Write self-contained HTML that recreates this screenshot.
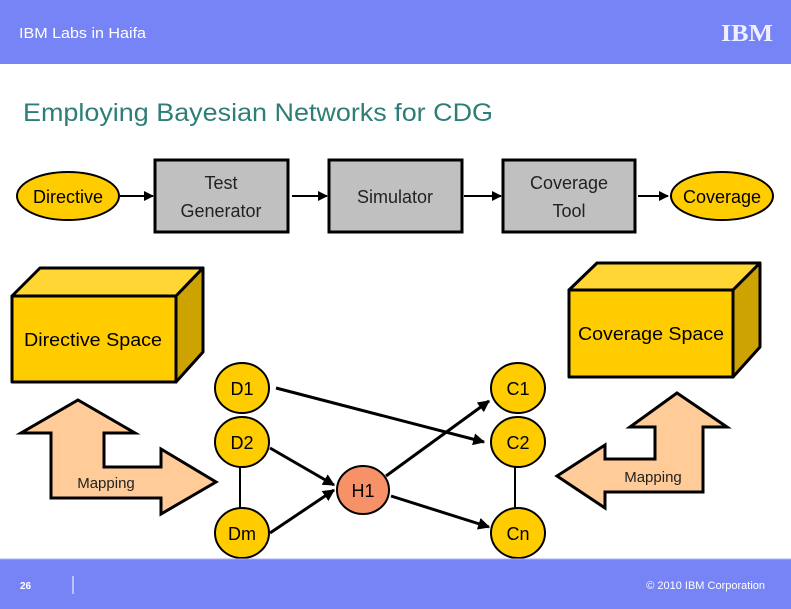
<!DOCTYPE html>
<html><head><meta charset="utf-8"><style>
body{margin:0;width:791px;height:609px;overflow:hidden;background:#fff}
svg{display:block}
</style></head><body>
<svg width="791" height="609" viewBox="0 0 791 609" xmlns="http://www.w3.org/2000/svg" font-family="Liberation Sans, Arial, Helvetica, sans-serif">
<defs>
<marker id="a" viewBox="0 0 10 10" refX="9" refY="5" markerWidth="5" markerHeight="5" orient="auto"><path d="M0,0L10,5L0,10z" fill="#000"/></marker>
<marker id="b" viewBox="0 0 10 10" refX="9" refY="5" markerWidth="4" markerHeight="4" orient="auto"><path d="M0,0L10,5L0,10z" fill="#000"/></marker>
</defs>
<rect x="0" y="0" width="791" height="64" fill="#7784F6"/>
<text x="19" y="38" font-size="15" fill="#fff" textLength="127" lengthAdjust="spacingAndGlyphs">IBM Labs in Haifa</text>
<text x="721" y="41" font-size="24" font-weight="bold" fill="#eef0ff" font-family="Liberation Serif, serif" textLength="52" lengthAdjust="spacingAndGlyphs">IBM</text>
<text x="23" y="121" font-size="25" fill="#2E7E78" textLength="470" lengthAdjust="spacingAndGlyphs">Employing Bayesian Networks for CDG</text>

<ellipse cx="68" cy="196" rx="51" ry="24" fill="#FFCC00" stroke="#000" stroke-width="2"/>
<text x="68" y="203" font-size="18" text-anchor="middle">Directive</text>
<rect x="155" y="160" width="133" height="72" fill="#C0C0C0" stroke="#000" stroke-width="3"/>
<text x="221" y="189" font-size="18" text-anchor="middle" fill="#222">Test</text>
<text x="221" y="217" font-size="18" text-anchor="middle" fill="#222">Generator</text>
<rect x="329" y="160" width="133" height="72" fill="#C0C0C0" stroke="#000" stroke-width="3"/>
<text x="395" y="203" font-size="18" text-anchor="middle" fill="#222">Simulator</text>
<rect x="503" y="160" width="132" height="72" fill="#C0C0C0" stroke="#000" stroke-width="3"/>
<text x="569" y="189" font-size="18" text-anchor="middle" fill="#222">Coverage</text>
<text x="569" y="217" font-size="18" text-anchor="middle" fill="#222">Tool</text>
<ellipse cx="722" cy="196" rx="51" ry="24" fill="#FFCC00" stroke="#000" stroke-width="2"/>
<text x="722" y="203" font-size="18" text-anchor="middle">Coverage</text>
<g stroke="#000" stroke-width="2" marker-end="url(#a)">
<line x1="120" y1="196" x2="153" y2="196"/>
<line x1="292" y1="196" x2="327" y2="196"/>
<line x1="464" y1="196" x2="501" y2="196"/>
<line x1="638" y1="196" x2="668" y2="196"/>
</g>

<g stroke="#000" stroke-width="3" stroke-linejoin="round">
<path d="M12,296L40,268L203,268L176,296Z" fill="#FFD633"/>
<path d="M176,296L203,268L203,352L176,382Z" fill="#CCA300"/>
<rect x="12" y="296" width="164" height="86" fill="#FFCC00"/>
<path d="M569,290L597,263L760,263L733,290Z" fill="#FFD633"/>
<path d="M733,290L760,263L760,347L733,377Z" fill="#CCA300"/>
<rect x="569" y="290" width="164" height="87" fill="#FFCC00"/>
</g>
<text x="93" y="346" font-size="18" text-anchor="middle" textLength="138" lengthAdjust="spacingAndGlyphs">Directive Space</text>
<text x="651" y="340" font-size="18" text-anchor="middle" textLength="146" lengthAdjust="spacingAndGlyphs">Coverage Space</text>

<path d="M78,400L135,433L104,433L104,467L161,467L161,449L216,482L161,514L161,498L51,498L51,433L21,433Z" fill="#FFCC99" stroke="#000" stroke-width="3"/>
<text x="106" y="488" font-size="15" text-anchor="middle" fill="#222">Mapping</text>
<path d="M677,393L727,427L703,427L703,492L605,492L605,508L557,476L605,445L605,459L655,459L655,427L630,427Z" fill="#FFCC99" stroke="#000" stroke-width="3"/>
<text x="653" y="482" font-size="15" text-anchor="middle" fill="#222">Mapping</text>

<g stroke="#000" stroke-width="2">
<line x1="240" y1="466" x2="240" y2="509"/>
<line x1="515" y1="466" x2="515" y2="509"/>
</g>
<g stroke="#000" stroke-width="3" marker-end="url(#b)">
<line x1="276" y1="388" x2="484" y2="442"/>
<line x1="270" y1="448" x2="334" y2="485"/>
<line x1="270" y1="533" x2="334" y2="490"/>
<line x1="386" y1="476" x2="489" y2="401"/>
<line x1="391" y1="496" x2="489" y2="527"/>
</g>
<g fill="#FFCC00" stroke="#000" stroke-width="2">
<ellipse cx="242" cy="388" rx="27" ry="25"/>
<ellipse cx="242" cy="442" rx="27" ry="25"/>
<ellipse cx="242" cy="533" rx="27" ry="25"/>
<ellipse cx="518" cy="388" rx="27" ry="25"/>
<ellipse cx="518" cy="442" rx="27" ry="25"/>
<ellipse cx="518" cy="533" rx="27" ry="25"/>
</g>
<ellipse cx="363" cy="490" rx="26" ry="24" fill="#F79268" stroke="#000" stroke-width="2"/>
<g font-size="18" text-anchor="middle">
<text x="242" y="395">D1</text><text x="242" y="449">D2</text><text x="242" y="540">Dm</text>
<text x="518" y="395">C1</text><text x="518" y="449">C2</text><text x="518" y="540">Cn</text>
<text x="363" y="497">H1</text>
</g>

<rect x="0" y="559" width="791" height="50" fill="#7784F6"/>
<line x1="0" y1="559" x2="791" y2="559" stroke="#aab2fa" stroke-width="1"/>
<text x="20" y="589" font-size="10" font-weight="bold" fill="#fff">26</text>
<line x1="73" y1="576" x2="73" y2="594" stroke="#fff" stroke-width="1"/>
<text x="765" y="589" font-size="11" fill="#fff" text-anchor="end">© 2010 IBM Corporation</text>
</svg>
</body></html>
